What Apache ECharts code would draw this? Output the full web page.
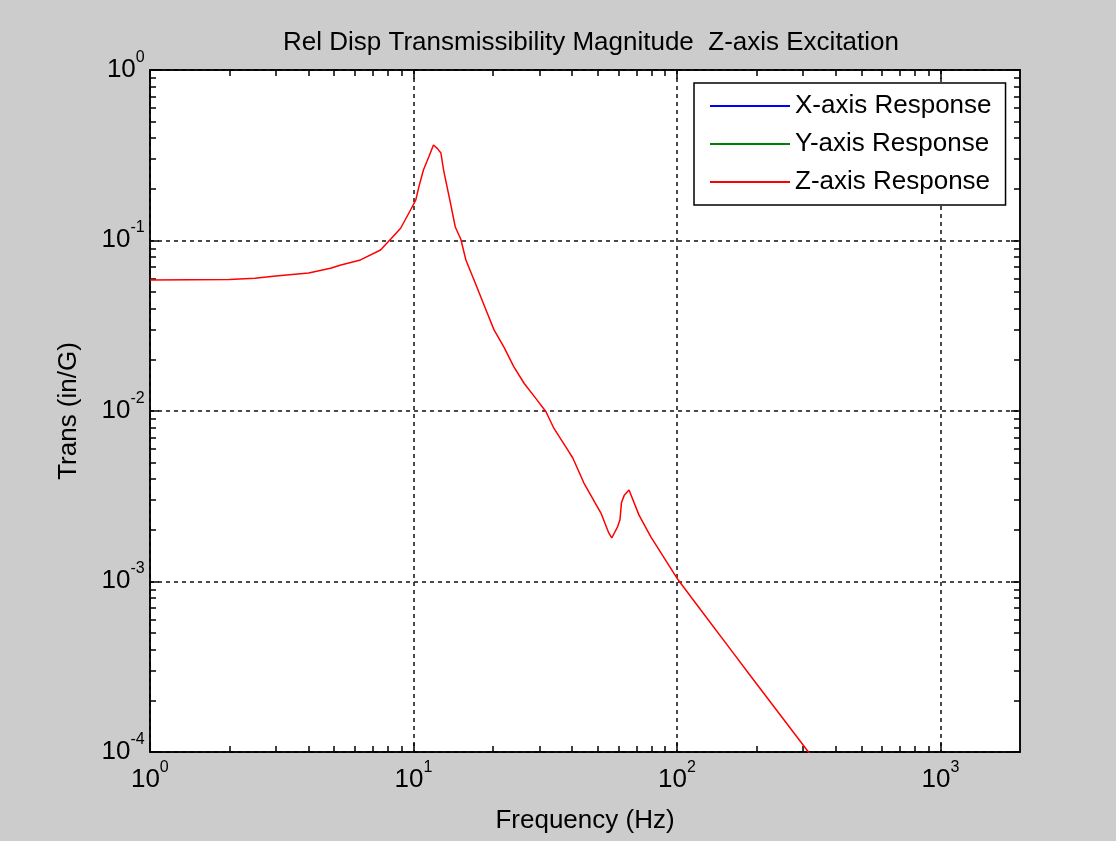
<!DOCTYPE html>
<html lang="en">
<head>
    <meta charset="UTF-8">
    <title>Rel Disp Transmissibility Magnitude</title>
    <script src="https://cdn.jsdelivr.net/npm/echarts@6.0.0/dist/echarts.min.js"></script>
    <style>
        * { margin: 0; padding: 0; box-sizing: border-box; }
        body { background: #cccccc; }
        #chart { width: 1116px; height: 841px; }
    </style>
</head>
<body>
    <div id="chart"></div>

    <script>
        // data
        const freqZ = [1, 2, 2.5, 3, 4, 4.84, 5.3, 6.29, 7.49, 8.18, 8.93, 9.74, 10.2, 10.48, 10.9, 11.43,
            11.9, 12.3, 12.7, 13.0, 13.8, 14.4, 15.1, 15.8, 16.96, 19.05, 20.2, 22.0, 24.0, 26.3, 29.1,
            31.8, 34.1, 38.5, 40.2, 44.3, 51.4, 55.1, 56.5, 59.5, 60.7, 61.5, 63, 65.7, 71.7, 79.6,
            101, 123, 160, 191, 315, 500, 1000, 2000];
        const transZ = [0.0587, 0.0590, 0.0600, 0.0619, 0.0645, 0.0687, 0.0718, 0.0769, 0.088, 0.1016,
            0.118, 0.151, 0.173, 0.207, 0.259, 0.310,
            0.363, 0.347, 0.326, 0.259, 0.166, 0.120, 0.102, 0.0768, 0.0587, 0.0374, 0.0299, 0.0238,
            0.0182, 0.0145, 0.01186,
            0.0099, 0.0079, 0.0059, 0.0053, 0.00378, 0.00252, 0.00192, 0.00180, 0.0021, 0.0023, 0.0029,
            0.0032, 0.00344, 0.00245, 0.00182,
            0.00102, 0.00068, 0.000397, 0.000276, 0.0001, 0.00004, 0.00001, 0.0000025];
        const seriesNames = ['X-axis Response', 'Y-axis Response', 'Z-axis Response'];
        const seriesColors = ['#0000ff', '#008000', '#ff0000'];
        const xMajor = [1, 10, 100, 1000];
        const xMinor = [2, 3, 4, 5, 6, 7, 8, 9, 20, 30, 40, 50, 60, 70, 80, 90, 200, 300, 400, 500, 600, 700, 800, 900];
        const yMajor = [1e-4, 1e-3, 1e-2, 1e-1, 1];
        const yMinor = [];
        [1e-4, 1e-3, 1e-2, 1e-1].forEach(function (d) {
            for (let k = 2; k <= 9; k++) yMinor.push(+(d * k).toPrecision(3));
        });

        const font = '"Liberation Sans", Arial, sans-serif';
        const chart = echarts.init(document.getElementById('chart'));

        // 10^n labels with a raised exponent (h is a tiny spacer that sets the line height)
        function powLabel(v) {
            const e = Math.round(Math.log10(v));
            if (Math.abs(Math.log10(v) - e) > 1e-6) return '';
            return '{b|10}{s|' + e + '}{h| }';
        }
        const labelRich = {
            b: { fontSize: 26, fontFamily: font, color: '#000', lineHeight: 26, verticalAlign: 'bottom' },
            s: { fontSize: 16, fontFamily: font, color: '#000', lineHeight: 16, verticalAlign: 'top' },
            h: { fontSize: 1, lineHeight: 33 }
        };

        const lineBlack = { show: true, onZero: false, lineStyle: { color: '#000', width: 1.5 } };
        const gridDash = { show: true, lineStyle: { color: '#111', type: [4, 4], width: 1.5 } };

        function xAx(pos, ticks, len, withLabel) {
            return {
                type: 'log', logBase: 10, min: 1, max: 2000, position: pos,
                axisLine: lineBlack,
                axisTick: { show: true, inside: true, length: len, customValues: ticks, lineStyle: { color: '#000', width: 1.5 } },
                axisLabel: withLabel ? {
                    show: true, customValues: xMajor, formatter: powLabel, rich: labelRich, margin: 8
                } : { show: false },
                splitLine: withLabel ? gridDash : { show: false },
                name: withLabel ? 'Frequency (Hz)' : '',
                nameLocation: 'middle', nameGap: 56,
                nameTextStyle: { fontSize: 26, fontFamily: font, color: '#000' }
            };
        }
        function yAx(pos, ticks, len, withLabel) {
            return {
                type: 'log', logBase: 10, min: 1e-4, max: 1, position: pos,
                axisLine: lineBlack,
                axisTick: { show: true, inside: true, length: len, customValues: ticks, lineStyle: { color: '#000', width: 1.5 } },
                axisLabel: withLabel ? {
                    show: true, customValues: yMajor, formatter: powLabel, rich: labelRich, margin: 5,
                    padding: [0, 0, 8, 0]
                } : { show: false },
                splitLine: withLabel ? gridDash : { show: false },
                name: withLabel ? 'Trans (in/G)' : '',
                nameLocation: 'middle', nameGap: 68, nameRotate: 90,
                nameTextStyle: { fontSize: 26, fontFamily: font, color: '#000' }
            };
        }

        const zData = freqZ.map(function (f, i) { return [f, transZ[i]]; });

        const option = {
            backgroundColor: '#cccccc',
            animation: false,
            title: {
                text: 'Rel Disp Transmissibility Magnitude  Z-axis Excitation',
                left: 586, top: 25, textAlign: 'center',
                textStyle: { fontSize: 26, fontWeight: 'normal', fontFamily: font, color: '#000' }
            },
            grid: { left: 150, top: 70, right: 96, bottom: 89, show: true, backgroundColor: '#ffffff', borderWidth: 0 },
            legend: {
                orient: 'vertical', left: 694, top: 83,
                backgroundColor: '#ffffff', borderColor: '#000', borderWidth: 1.5,
                padding: [10, 14, 10, 16], itemGap: 12,
                icon: 'rect', itemWidth: 80, itemHeight: 2,
                textStyle: { fontSize: 26, fontFamily: font, color: '#000', lineHeight: 26 },
                data: seriesNames
            },
            xAxis: [
                xAx('bottom', xMajor, 9, true),
                xAx('bottom', xMinor, 6, false),
                xAx('top', xMajor, 9, false),
                xAx('top', xMinor, 6, false)
            ],
            yAxis: [
                yAx('left', yMajor, 9, true),
                yAx('left', yMinor, 6, false),
                yAx('right', yMajor, 9, false),
                yAx('right', yMinor, 6, false)
            ],
            series: [
                { name: seriesNames[0], type: 'line', data: [], color: seriesColors[0], showSymbol: false },
                { name: seriesNames[1], type: 'line', data: [], color: seriesColors[1], showSymbol: false },
                {
                    name: seriesNames[2], type: 'line', data: zData, color: seriesColors[2],
                    showSymbol: false, lineStyle: { width: 1.5 }, clip: true
                }
            ]
        };
        chart.setOption(option);
    </script>
</body>
</html>
